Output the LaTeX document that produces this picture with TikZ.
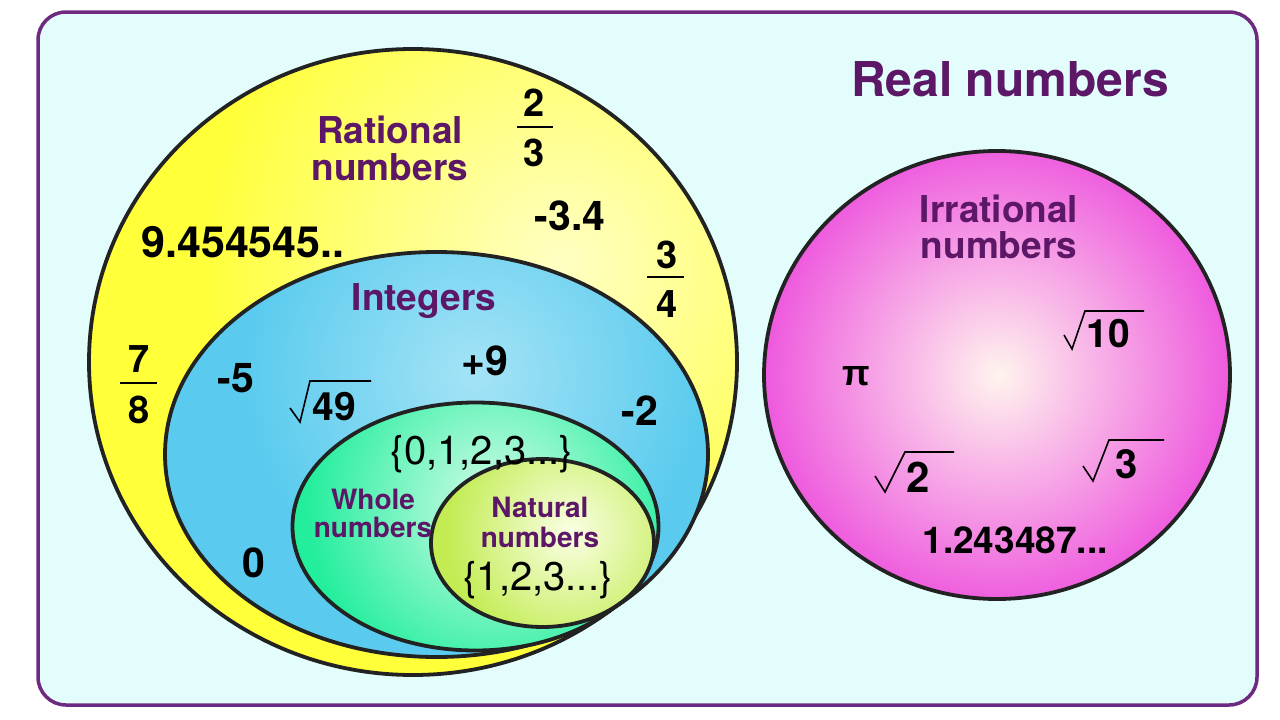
\documentclass[tikz,border=0pt]{standalone}
\usepackage{fontspec}
\setmainfont{TeX Gyre Heros}
\newfontfamily\pifont{Liberation Sans}
\definecolor{panelfill}{HTML}{E3FDFD}
\definecolor{panelline}{HTML}{6E2A80}
\definecolor{lblpurple}{HTML}{5C1767}
\definecolor{yout}{HTML}{FFFF3A}
\definecolor{yin}{HTML}{FFFFC4}
\definecolor{bout}{HTML}{5ACBEE}
\definecolor{bin}{HTML}{A4E3F6}
\definecolor{gout}{HTML}{22EE9C}
\definecolor{gin}{HTML}{D6FCEA}
\definecolor{nout}{HTML}{C2EC52}
\definecolor{nin}{HTML}{FAFFE4}
\definecolor{pout}{HTML}{EE58DE}
\definecolor{pin}{HTML}{FFF4EE}
\definecolor{outl}{HTML}{222222}
\begin{document}
\begin{tikzpicture}[x=1pt,y=-1pt,
  outline/.style={draw=outl,line width=3.8pt},
  lbl/.style={text=lblpurple,font=\bfseries\fontsize{37}{37}\selectfont,inner sep=0pt,anchor=base},
  num/.style={text=black,font=\bfseries\fontsize{41}{41}\selectfont,inner sep=0pt,anchor=base},
  setn/.style={text=black,font=\fontsize{40}{40}\selectfont,inner sep=0pt,anchor=base},
  fracbar/.style={draw=black,line width=2.2pt},
  radline/.style={draw=black,line width=1.6pt,line join=miter}]
\useasboundingbox (0,0) rectangle (1280,720);
\fill[white] (0,0) rectangle (1280,720);
% panel
\draw[draw=panelline,fill=panelfill,line width=3.5pt,rounded corners=28pt] (38,12) rectangle (1257,705);

% rational (yellow)
\begin{scope}
\clip (413,362) ellipse [x radius=324, y radius=313];
\fill[yout] (80,40) rectangle (750,690);
\shade[inner color=yin,outer color=yout] (560,265) circle (360);
\end{scope}
\draw[outline] (413,362) ellipse [x radius=324, y radius=313];

% integers (blue)
\begin{scope}
\clip (436.5,454.5) ellipse [x radius=271.5, y radius=202.5];
\fill[bout] (160,245) rectangle (715,665);
\shade[inner color=bin,outer color=bout] (475,375) circle (230);
\end{scope}
\draw[outline] (436.5,454.5) ellipse [x radius=271.5, y radius=202.5];

% whole (green)
\begin{scope}
\clip (475.5,526.5) ellipse [x radius=183, y radius=124];
\fill[gout] (285,395) rectangle (665,655);
\shade[inner color=gin,outer color=gout] (495,505) circle (190);
\end{scope}
\draw[outline] (475.5,526.5) ellipse [x radius=183, y radius=124];

% natural (yellow-green)
\begin{scope}
\clip (542.5,543) ellipse [x radius=111.5, y radius=84];
\fill[nout] (425,455) rectangle (660,632);
\shade[inner color=nin,outer color=nout] (570,532) circle (125);
\end{scope}
\draw[outline] (542.5,543) ellipse [x radius=111.5, y radius=84];

% irrational (pink)
\begin{scope}
\clip (997,375) ellipse [x radius=233, y radius=224];
\fill[pout] (760,145) rectangle (1235,605);
\shade[inner color=pin,outer color=pout] (998,375) circle (235);
\end{scope}
\draw[outline] (997,375) ellipse [x radius=233, y radius=224];

% titles
\node[lbl,font=\bfseries\fontsize{48}{48}\selectfont] (real) at (1010,96) {Real numbers};
\node[lbl] (rat1) at (390,143) {Rational};
\node[lbl] (rat2) at (390,180) {numbers};
\node[lbl] (int) at (424,310) {Integers};
\node[lbl] (irr1) at (999,222) {Irrational};
\node[lbl] (irr2) at (999,258) {numbers};
\node[lbl,font=\bfseries\fontsize{28}{28}\selectfont] (wh1) at (373,509) {Whole};
\node[lbl,font=\bfseries\fontsize{28}{28}\selectfont] (wh2) at (373,537) {numbers};
\node[lbl,font=\bfseries\fontsize{28}{28}\selectfont] (na1) at (540,517) {Natural};
\node[lbl,font=\bfseries\fontsize{28}{28}\selectfont] (na2) at (540,547) {numbers};

% rational numbers
\node[num,font=\bfseries\fontsize{38}{38}\selectfont] (f2) at (534,116) {2};
\node[num,font=\bfseries\fontsize{38}{38}\selectfont] (f3) at (534,166) {3};
\draw[fracbar] (517,127) -- (553,127);
\node[num] (m34) at (570,230) {-3.4};
\node[num,font=\bfseries\fontsize{43}{43}\selectfont] (dec) at (243,257) {9.454545..};
\node[num,font=\bfseries\fontsize{38}{38}\selectfont] (g3) at (667,268) {3};
\node[num,font=\bfseries\fontsize{38}{38}\selectfont] (g4) at (667,317) {4};
\draw[fracbar] (647,277) -- (684,277);
\node[num,font=\bfseries\fontsize{38}{38}\selectfont] (h7) at (139,372) {7};
\node[num,font=\bfseries\fontsize{38}{38}\selectfont] (h8) at (139,423) {8};
\draw[fracbar] (120,383) -- (157,383);

% integers
\node[num] (m5) at (236,392) {-5};
\node[num] (p9) at (485,375) {+9};
\node[num,font=\bfseries\fontsize{39}{39}\selectfont] (s49) at (334,420) {49};
\draw[radline] (290,408) -- (300,422) -- (310,381) -- (371,381);
\node[num] (m2) at (640,425) {-2};
\node[num] (zero) at (254,577) {0};

% whole / natural sets
\node[setn] (wset) at (482,464) {\{0,1,2,3...\}};
\node[setn] (nset) at (538,590) {\{1,2,3...\}};

% irrational numbers
\node[num,font=\bfseries\fontsize{39}{39}\selectfont] (s10) at (1108,347) {10};
\draw[radline] (1064,335) -- (1072,349) -- (1085,311) -- (1144,311);
\node[num,font=\pifont\bfseries\fontsize{36}{36}\selectfont] (pi) at (856,385) {π};
\node[num,font=\bfseries\fontsize{42}{42}\selectfont] (s2) at (918,492) {2};
\draw[radline] (875,476) -- (885,492) -- (905,452) -- (954,452);
\node[num,font=\bfseries\fontsize{40}{40}\selectfont] (s3) at (1127,478) {3};
\draw[radline] (1083,466) -- (1093,481) -- (1109,440) -- (1164,440);
\node[num,font=\bfseries\fontsize{37}{37}\selectfont] (irrdec) at (1015,553) {1.243487...};
\end{tikzpicture}
\end{document}
